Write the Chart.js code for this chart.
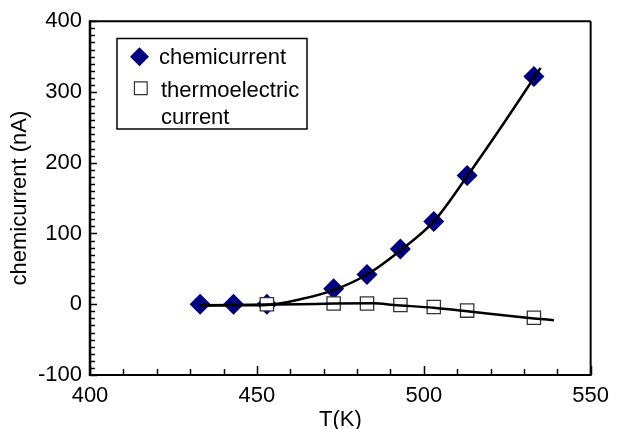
<!DOCTYPE html>
<html>
<head>
<meta charset="utf-8">
<script src="https://cdn.jsdelivr.net/npm/chart.js@4/dist/chart.umd.min.js"></script>
<style>
  html, body { margin: 0; padding: 0; background: #ffffff; }
  #wrap { width: 617px; height: 429px; position: relative; }
</style>
</head>
<body>
<div id="wrap"><canvas id="c" width="617" height="429"></canvas></div>
<script>
// ---- data ----
const chemTemps = [433, 443, 453, 473, 483, 493, 503, 513, 533];
const chemValues = [0, 0, 0, 22, 42, 78, 117, 182, 322];

const thermoTemps = [453, 473, 483, 493, 503, 513, 533];
const thermoValues = [0, 1, 1, -1, -4, -9, -19];

const chemFitTemps = [433, 443, 453, 463, 473, 483, 493, 503, 513, 523, 535];
const chemFitValues = [-2, -1.5, -1, 7, 20, 42, 76, 117, 181, 249, 334];

const thermoFitTemps = [433, 453, 463, 473, 485, 491, 503, 513, 533, 539];
const thermoFitValues = [-1.5, -0.5, 0, 1, 1.4, -1, -5, -10, -20, -22.5];

const xTickValues = [400, 450, 500, 550];
const yTickValues = [-100, 0, 100, 200, 300, 400];

const seriesLabels = ['chemicurrent', ['thermoelectric', 'current']];
const axisTitles = { x: 'T(K)', y: 'chemicurrent (nA)' };

const FONT = "'Liberation Sans', Arial, Helvetica, sans-serif";
const FS = 22;

const pts = (xs, ys) => xs.map((x, i) => ({ x: x, y: ys[i] }));

// frame + inward ticks
const framePlugin = {
  id: 'frame',
  beforeDatasetsDraw(chart) {
    const { ctx, chartArea: a, scales: { x, y } } = chart;
    ctx.save();
    ctx.strokeStyle = '#000';
    ctx.lineCap = 'butt';
    ctx.lineWidth = 1.5;
    for (let v = x.min; v <= x.max; v += 10) {
      const px = Math.round(x.getPixelForValue(v)) + 0.5;
      const len = (v % 50 === 0) ? 9 : 6;
      ctx.beginPath(); ctx.moveTo(px, a.bottom); ctx.lineTo(px, a.bottom - len); ctx.stroke();
    }
    for (let v = y.min; v <= y.max; v += 10) {
      const py = Math.round(y.getPixelForValue(v)) + 0.5;
      const len = (v % 100 === 0) ? 7 : 5;
      ctx.beginPath(); ctx.moveTo(a.left, py); ctx.lineTo(a.left + len, py); ctx.stroke();
    }
    ctx.lineWidth = 2;
    ctx.beginPath();
    ctx.moveTo(a.left, a.top); ctx.lineTo(a.right, a.top);
    ctx.moveTo(a.right, a.top); ctx.lineTo(a.right, a.bottom);
    ctx.moveTo(a.left - 1, a.bottom); ctx.lineTo(a.right + 1, a.bottom);
    ctx.stroke();
    ctx.lineWidth = 2.5;
    ctx.beginPath();
    ctx.moveTo(a.left, a.top - 1); ctx.lineTo(a.left, a.bottom + 1);
    ctx.stroke();
    ctx.restore();
  }
};

// legend box
const legendPlugin = {
  id: 'customLegend',
  afterDraw(chart) {
    const { ctx } = chart;
    const ds = chart.data.datasets;
    const chemDs = ds.find(d => d.id === 'chem');
    const thDs = ds.find(d => d.id === 'thermo');
    ctx.save();
    ctx.fillStyle = '#fff';
    ctx.fillRect(117, 38.5, 190, 90.5);
    ctx.strokeStyle = '#000';
    ctx.lineWidth = 1.5;
    ctx.strokeRect(117, 38.5, 190, 90.5);
    ctx.fillStyle = chemDs.backgroundColor;
    ctx.strokeStyle = chemDs.borderColor;
    Chart.helpers.drawPoint(ctx, { pointStyle: 'rectRot', radius: 9.5, rotation: 0, borderWidth: 0 }, 139.5, 56.7);
    ctx.fillStyle = thDs.backgroundColor;
    ctx.strokeStyle = thDs.borderColor;
    ctx.lineWidth = 1.2;
    Chart.helpers.drawPoint(ctx, { pointStyle: 'rect', radius: 9, rotation: 0, borderWidth: 1.2 }, 140.8, 88.3);
    ctx.fillStyle = '#000';
    ctx.font = FS + 'px ' + FONT;
    ctx.textBaseline = 'alphabetic';
    ctx.textAlign = 'left';
    ctx.fillText(seriesLabels[0], 159, 63.5);
    ctx.fillText(seriesLabels[1][0], 161, 96.5);
    ctx.fillText(seriesLabels[1][1], 161, 123.5);
    ctx.restore();
  }
};

new Chart(document.getElementById('c'), {
  type: 'scatter',
  data: {
    datasets: [
      {
        id: 'chemFit', data: pts(chemFitTemps, chemFitValues), showLine: true,
        borderColor: '#000', borderWidth: 2.5, pointRadius: 0, cubicInterpolationMode: 'monotone', fill: false
      },
      {
        id: 'thermoFit', data: pts(thermoFitTemps, thermoFitValues), showLine: true,
        borderColor: '#000', borderWidth: 2.5, pointRadius: 0, cubicInterpolationMode: 'monotone', fill: false
      },
      {
        id: 'thermo', label: 'thermoelectric current', data: pts(thermoTemps, thermoValues),
        pointStyle: 'rect', pointRadius: 9.4, pointBorderWidth: 1.3,
        backgroundColor: '#ffffff', borderColor: '#333333', showLine: false
      },
      {
        id: 'chem', label: 'chemicurrent', data: pts(chemTemps, chemValues),
        pointStyle: 'rectRot', pointRadius: 10.5, pointBorderWidth: 0,
        backgroundColor: '#000080', borderColor: '#000080', showLine: false
      }
    ]
  },
  options: {
    responsive: false,
    animation: false,
    events: [],
    layout: { padding: { left: 0, top: 20, right: 22.5, bottom: 0 } },
    plugins: { legend: { display: false }, tooltip: { enabled: false } },
    scales: {
      x: {
        type: 'linear', min: 400, max: 550,
        afterFit(s) { s.height = 54; },
        afterBuildTicks(s) { s.ticks = xTickValues.map(v => ({ value: v })); },
        grid: { display: false, drawTicks: false },
        border: { display: false },
        ticks: { color: '#000', font: { family: FONT, size: FS }, padding: 8, maxRotation: 0 },
        title: { display: true, text: axisTitles.x, color: '#000', font: { family: FONT, size: FS, lineHeight: 0.8 }, padding: { top: 0, bottom: 0 } }
      },
      y: {
        type: 'linear', min: -100, max: 400,
        afterFit(s) { s.width = 90; },
        afterBuildTicks(s) { s.ticks = yTickValues.map(v => ({ value: v })); },
        grid: { display: false, drawTicks: false },
        border: { display: false },
        ticks: { color: '#000', font: { family: FONT, size: FS }, padding: 8 },
        title: { display: true, text: axisTitles.y, color: '#000', font: { family: FONT, size: FS }, padding: { top: 7, bottom: 0 } }
      }
    }
  },
  plugins: [framePlugin, legendPlugin]
});
</script>
</body>
</html>
